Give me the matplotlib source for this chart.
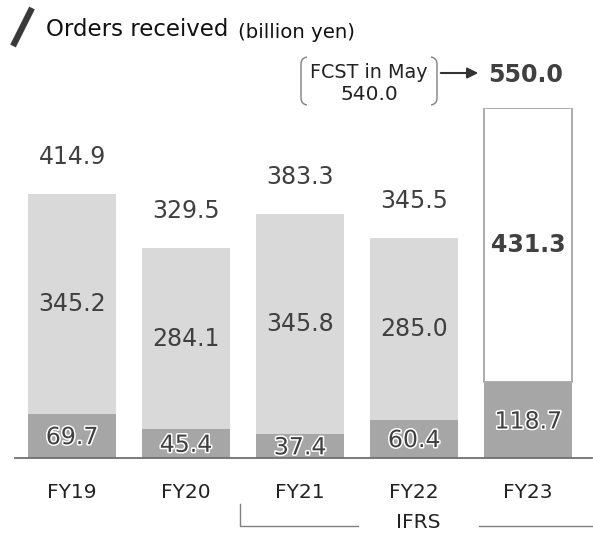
import matplotlib
matplotlib.use("Agg")
import matplotlib.pyplot as plt
import matplotlib.patheffects as pe
from matplotlib.path import Path
from matplotlib.patches import PathPatch, FancyArrowPatch

categories = ["FY19", "FY20", "FY21", "FY22", "FY23"]
bottom_vals = [69.7, 45.4, 37.4, 60.4, 118.7]
top_vals = [345.2, 284.1, 345.8, 285.0, 431.3]
totals = [414.9, 329.5, 383.3, 345.5, 550.0]
forecast_may = 540.0

plt.rcParams['font.family'] = ['DejaVu Sans']
W, H = 593, 534
fig = plt.figure(figsize=(W / 100, H / 100), dpi=100)

def fx(px):
    return px / W

def fy(py):
    return 1 - py / H

base_px, top_px = 458, 108
ax = fig.add_axes([fx(15), fy(base_px), fx(592) - fx(15), fy(top_px) - fy(base_px)])
ax.set_xlim(-0.5, 4.56)
ax.set_ylim(0, 550)
ax.axis('off')

dark = '#a6a6a6'
light = '#d9d9d9'
txt = '#404040'
x = list(range(len(categories)))
w = 0.77
stroke = [pe.withStroke(linewidth=2.2, foreground='white')]
narrow = ['Liberation Sans Narrow', 'DejaVu Sans']

for i in x:
    ax.bar(i, bottom_vals[i], width=w, color=dark, zorder=2)
    if i == 4:
        ax.bar(i, top_vals[i], bottom=bottom_vals[i], width=w, color='white',
               edgecolor=dark, linewidth=1.3, zorder=2)
    else:
        ax.bar(i, top_vals[i], bottom=bottom_vals[i], width=w, color=light, zorder=2)
    ax.text(i, bottom_vals[i] / 2 - 2, f"{bottom_vals[i]:.1f}", ha='center', va='center',
            fontsize=17, color=txt, path_effects=stroke, zorder=4)
    mid = bottom_vals[i] + top_vals[i] / 2
    ax.text(i, mid, f"{top_vals[i]:.1f}", ha='center', va='center', fontsize=17,
            color=txt, fontweight='bold' if i == 4 else 'normal', zorder=4)
    if i < 4:
        ax.text(i, totals[i] + 58, f"{totals[i]:.1f}", ha='center', va='center',
                fontsize=17, color=txt, zorder=4)
    ax.text(i, -54, categories[i], ha='center', va='center', fontsize=14.5,
            color='#222222', clip_on=False)

ax.plot([-0.5, 4.56], [0, 0], color='#707070', lw=1.3, clip_on=False, zorder=5)

# FY23 total with forecast annotation
fig.text(fx(526), fy(75), f"{totals[4]:.1f}", ha='center', va='center', fontsize=17,
         fontweight='bold', color=txt)
fig.text(fx(369), fy(72), "FCST in May", ha='center', va='center', fontsize=13.8,
         color='#222222', family=narrow)
fig.text(fx(369), fy(95), f"{forecast_may:.1f}", ha='center', va='center', fontsize=14.5,
         color='#222222', family=narrow)

def bracket(xp, side):
    r = 6
    p = Path([(fx(xp + side * r), fy(57)), (fx(xp), fy(58)), (fx(xp), fy(64)),
              (fx(xp), fy(98)), (fx(xp), fy(104)), (fx(xp + side * r), fy(105))],
             [Path.MOVETO, Path.CURVE3, Path.CURVE3, Path.LINETO, Path.CURVE3, Path.CURVE3])
    fig.patches.append(PathPatch(p, fill=False, edgecolor='#808080', lw=1.0,
                                 transform=fig.transFigure))

bracket(301, 1)
bracket(437, -1)
fig.patches.append(FancyArrowPatch(
    (fx(438), fy(73)), (fx(481), fy(73)), arrowstyle='-|>', mutation_scale=16,
    color='#333333', lw=1.5, transform=fig.transFigure))

# title
fig.add_artist(plt.Line2D([fx(13), fx(32)], [fy(46), fy(8)], color='#3a3a3a', lw=4.5,
                          solid_capstyle='butt', transform=fig.transFigure))
fig.text(fx(46), fy(30), "Orders received", ha='left', va='center', fontsize=16.5, color='#111111')
fig.text(fx(238), fy(32), "(billion yen)", ha='left', va='center', fontsize=14.2, color='#111111')

# IFRS bracket
fig.add_artist(plt.Line2D([fx(240), fx(240), fx(358)], [fy(504), fy(526), fy(526)],
                          color='#808080', lw=1.0, transform=fig.transFigure))
fig.add_artist(plt.Line2D([fx(479), fx(592)], [fy(526), fy(526)],
                          color='#808080', lw=1.0, transform=fig.transFigure))
fig.text(fx(418), fy(523), "IFRS", ha='center', va='center', fontsize=14.5, color='#222222')

fig.savefig("out.png", dpi=100)
